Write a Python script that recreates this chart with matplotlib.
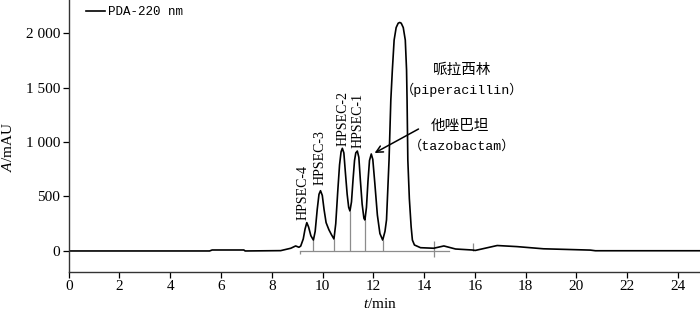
import matplotlib
matplotlib.use("Agg")
import matplotlib.pyplot as plt
from matplotlib.lines import Line2D

plt.rcParams['font.family'] = ['Liberation Serif', 'Noto Sans CJK SC', 'DejaVu Sans']
plt.rcParams['mathtext.fontset'] = 'custom'
plt.rcParams['mathtext.it'] = 'Liberation Serif:italic'
plt.rcParams['mathtext.rm'] = 'Liberation Serif'

# chromatogram: time (min) and absorbance (mAU)
time_min = [0.0, 5.55, 5.65, 6.9, 6.95, 8.35, 8.75, 8.94, 9.07, 9.14, 9.24, 9.31, 9.38, 9.45,
            9.54, 9.64, 9.71, 9.79, 9.86, 9.92, 9.99, 10.06, 10.14, 10.25, 10.35, 10.45,
            10.52, 10.60, 10.67, 10.73, 10.78, 10.84, 10.90, 10.97, 11.03, 11.08, 11.14,
            11.20, 11.26, 11.31, 11.37, 11.43, 11.49, 11.56, 11.63, 11.67, 11.73, 11.79,
            11.85, 11.92, 11.98, 12.06, 12.16, 12.26, 12.37, 12.46, 12.52, 12.62, 12.69,
            12.75, 12.82, 12.90, 12.98, 13.04, 13.10, 13.18, 13.26, 13.31, 13.33, 13.36,
            13.42, 13.49, 13.54, 13.62, 13.86, 14.38, 14.78, 15.24, 15.89, 16.02, 16.88,
            17.66, 18.70, 20.55, 20.75, 24.87]
absorb_mau = [0, 0, 9, 9, 0, 3, 25, 46, 34, 45, 110, 200, 260, 220,
              140, 100, 180, 380, 520, 553, 510, 380, 260, 195, 150, 110,
              250, 550, 790, 910, 942, 900, 720, 520, 400, 367, 450,
              650, 830, 900, 917, 860, 650, 430, 300, 284, 400, 640,
              830, 890, 840, 620, 330, 160, 100, 180, 285, 835, 1385,
              1660, 1935, 2050, 2090, 2097, 2090, 2050, 1935, 1660, 1385, 835,
              480, 223, 100, 55, 30, 25, 46, 18, 9, 5, 50,
              40, 20, 8, 2, 2]

# integration markers
valley_t = [9.62, 10.45, 11.08, 11.67, 12.38]
valley_a = [100, 110, 367, 284, 100]
baseline_t = [9.10, 15.0]

peak_labels = ['HPSEC-4', 'HPSEC-3', 'HPSEC-2', 'HPSEC-1']
peak_label_t = [9.25, 9.89, 10.79, 11.38]
peak_label_a = [283, 605, 963, 945]

x_ticks = list(range(0, 25, 2))
y_ticks = [0, 500, 1000, 1500, 2000]
y_ticklabels = ['0', '500', '1 000', '1 500', '2 000']

fig = plt.figure(figsize=(7.0, 3.11), dpi=100)
ax = fig.add_axes([68.7/700, 39/311, 631.3/700, 272/311])

grey = '#8c8c8c'
ax.plot(baseline_t, [0, 0], color=grey, lw=0.9, zorder=1)
ax.vlines(valley_t, 0, valley_a, color=grey, lw=0.9, zorder=1)
ax.vlines([baseline_t[0]], -30, 0, color=grey, lw=0.9, zorder=1)
ax.vlines([14.41], -55, 90, color=grey, lw=0.9, zorder=1)
ax.vlines([15.93], 0, 75, color=grey, lw=0.9, zorder=1)

ax.plot(time_min, absorb_mau, color='black', lw=1.2, zorder=2)

for lab, t, a in zip(peak_labels, peak_label_t, peak_label_a):
    ax.text(t, a, lab, rotation=90, ha='center', va='bottom', fontsize=10)

ax.text(15.51, 1660, '哌拉西林', ha='center', va='center', fontsize=10.5,
        family=['Noto Sans CJK SC'])
ax.text(15.49, 1477, '（piperacillin）', ha='center', va='center', fontsize=9.5,
        family=['Liberation Mono', 'Noto Sans CJK SC'])
ax.text(15.43, 1147, '他唑巴坦', ha='center', va='center', fontsize=10.5,
        family=['Noto Sans CJK SC'])
ax.text(15.5, 963, '（tazobactam）', ha='center', va='center', fontsize=9.5,
        family=['Liberation Mono', 'Noto Sans CJK SC'])
ax.annotate('', xy=(12.05, 899), xytext=(13.78, 1119),
            arrowprops=dict(arrowstyle='->', color='black', lw=1.1,
                            mutation_scale=12, shrinkA=0, shrinkB=0))

handle = Line2D([], [], color='black', lw=1.2)
leg = ax.legend([handle], ['PDA-220 nm'], loc='upper left', frameon=False,
                handlelength=1.55, handletextpad=0.17, borderaxespad=0.0,
                borderpad=0.0, bbox_to_anchor=(17.3/631.3, 0.978),
                prop={'family': ['Liberation Mono'], 'size': 9})

ax.set_xlim(0, 24.87)
ax.set_ylim(-193, 2303)
ax.set_xticks(x_ticks)
ax.set_yticks(y_ticks)
ax.set_yticklabels(y_ticklabels)
ax.tick_params(direction='out', length=4, width=0.9, labelsize=11, pad=2, colors='black')
for s in ['top', 'right']:
    ax.spines[s].set_visible(False)
for s in ['left', 'bottom']:
    ax.spines[s].set_color('#333333')
    ax.spines[s].set_linewidth(1.0)

ax.set_xlabel(r'$\mathit{t}$/min', fontsize=11)
ax.set_ylabel(r'$\mathit{A}$/mAU', fontsize=11)
ax.xaxis.set_label_coords((380 - 68.7) / 631.3, (272 - 297) / 272)
ax.yaxis.set_label_coords((15 - 68.7) / 631.3, (272 - 147) / 272)

fig.savefig('out.png', dpi=100)
